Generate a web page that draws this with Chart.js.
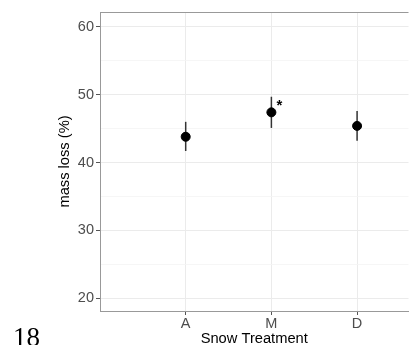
<!DOCTYPE html>
<html>
<head>
<meta charset="utf-8">
<script src="https://cdn.jsdelivr.net/npm/chart.js@4.4.1/dist/chart.umd.min.js"></script>
<style>
  html, body { margin: 0; padding: 0; background: #fff; overflow: hidden; }
  #wrap { position: relative; width: 409px; height: 345px; overflow: hidden; }
  #massChart { display: block; }
  #pageNum {
    position: absolute; left: 13px; top: 324px;
    font-family: "Liberation Serif", "DejaVu Serif", serif;
    font-size: 27px; line-height: 1; color: #000;
  }
</style>
</head>
<body>
<div id="wrap">
  <canvas id="massChart" width="414" height="345"></canvas>
  <div id="pageNum">18</div>
</div>
<script>
// treatments along the x axis
const treatments = ["A", "M", "D"];
// mean mass loss and error bar ends (%)
const meanLoss = [43.8, 47.4, 45.4];
const lowerLoss = [41.7, 45.1, 43.2];
const upperLoss = [46.0, 49.7, 47.6];
const marks = ["", "*", ""];
// y ticks: labelled majors and unlabelled minors
const yMajor = [20, 30, 40, 50, 60];
const yMinor = [25, 35, 45, 55];

const points = meanLoss.map((v, i) => ({ x: i + 1, y: v }));
const sans = "'Liberation Sans', Arial, sans-serif";

// error bars, the star and the top border of the panel
const extras = {
  id: "extras",
  beforeDatasetsDraw(chart) {
    const { ctx, scales: { x, y } } = chart;
    ctx.save();
    ctx.strokeStyle = "#333";
    ctx.lineWidth = 1.5;
    treatments.forEach((t, i) => {
      const px = x.getPixelForValue(i + 1);
      ctx.beginPath();
      ctx.moveTo(px, y.getPixelForValue(lowerLoss[i]));
      ctx.lineTo(px, y.getPixelForValue(upperLoss[i]));
      ctx.stroke();
    });
    ctx.restore();
  },
  afterDraw(chart) {
    const { ctx, chartArea, scales: { x, y } } = chart;
    ctx.save();
    ctx.strokeStyle = "#999";
    ctx.lineWidth = 1;
    ctx.beginPath();
    ctx.moveTo(chartArea.left, chartArea.top + 0.5);
    ctx.lineTo(chartArea.right, chartArea.top + 0.5);
    ctx.stroke();

    ctx.fillStyle = "#000";
    ctx.font = "bold 15px " + sans;
    ctx.textAlign = "left";
    ctx.textBaseline = "middle";
    marks.forEach((m, i) => {
      if (!m) return;
      ctx.fillText(m, x.getPixelForValue(i + 1) + 5, y.getPixelForValue(meanLoss[i]) - 6);
    });
    ctx.restore();
  }
};

const isMajor = v => yMajor.includes(v);

new Chart(document.getElementById("massChart"), {
  type: "scatter",
  data: {
    datasets: [{
      data: points,
      backgroundColor: "#000",
      borderColor: "#000",
      pointRadius: 4.5,
      pointHoverRadius: 4.5
    }]
  },
  options: {
    responsive: false,
    animation: false,
    layout: { padding: { top: 12, right: 0, left: 0, bottom: 0 } },
    plugins: {
      legend: { display: false },
      tooltip: { enabled: false }
    },
    scales: {
      x: {
        type: "linear",
        min: 0,
        max: 3.6,
        afterBuildTicks: s => { s.ticks = treatments.map((t, i) => ({ value: i + 1 })); },
        afterFit: s => { s.height = 34; },
        ticks: {
          callback: v => treatments[v - 1] || "",
          color: "#4d4d4d",
          padding: 0,
          maxRotation: 0,
          font: { family: sans, size: 14.5 }
        },
        grid: { color: "#ebebeb", lineWidth: 1, tickLength: 4, tickColor: "#555" },
        border: { display: true, color: "#999", width: 1 },
        title: {
          display: true,
          text: "Snow Treatment",
          color: "#000",
          padding: { top: 0, bottom: -1 },
          font: { family: sans, size: 14.7, lineHeight: 1 }
        }
      },
      y: {
        min: 18.1,
        max: 62.2,
        afterBuildTicks: s => {
          s.ticks = yMajor.concat(yMinor).sort((a, b) => a - b).map(v => ({ value: v }));
        },
        afterFit: s => { s.width = 100; },
        ticks: {
          callback: v => isMajor(v) ? String(v) : "",
          color: "#4d4d4d",
          padding: 2,
          font: { family: sans, size: 14.5 }
        },
        grid: {
          color: c => isMajor(c.tick.value) ? "#ebebeb" : "#f4f4f4",
          lineWidth: c => isMajor(c.tick.value) ? 1 : 0.8,
          tickLength: 4,
          tickColor: c => isMajor(c.tick.value) ? "#555" : "rgba(0,0,0,0)"
        },
        border: { display: true, color: "#999", width: 1 },
        title: {
          display: true,
          text: "mass loss (%)",
          color: "#000",
          padding: { top: 57.6 },
          font: { family: sans, size: 14.7, lineHeight: 1 }
        }
      }
    }
  },
  plugins: [extras]
});
</script>
</body>
</html>
